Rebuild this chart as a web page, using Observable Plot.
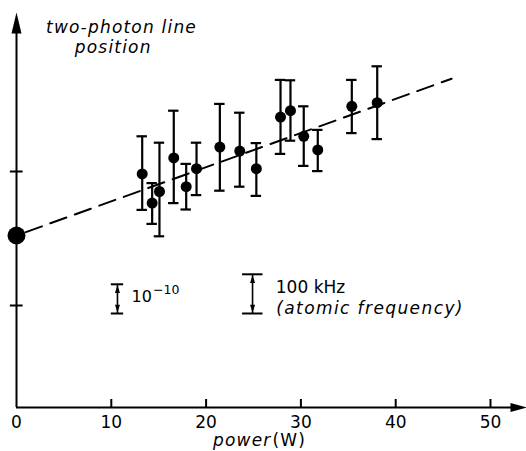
<!DOCTYPE html>
<html>
<head>
<meta charset="utf-8">
<script src="https://cdn.jsdelivr.net/npm/d3@7"></script>
<script src="https://cdn.jsdelivr.net/npm/@observablehq/plot@0.6"></script>
<style>
  html, body { margin: 0; padding: 0; background: #fff; }
  #chart { width: 526px; height: 451px; }
</style>
</head>
<body>
<div id="chart"></div>
<script>
// ---- data (power in W, line position in arbitrary units: 1 unit = 100 kHz) ----
const power    = [13.26, 14.31, 15.08, 16.59, 17.90, 18.99, 21.45, 23.55, 25.30, 27.85, 28.90, 30.30, 31.78, 35.37, 38.05];
const position = [5.84, 5.11, 5.40, 6.24, 5.52, 5.97, 6.51, 6.41, 5.97, 7.26, 7.42, 6.78, 6.44, 7.53, 7.62];
const errTop   = [6.78, 5.61, 6.62, 7.42, 6.09, 6.62, 7.59, 7.37, 6.61, 8.19, 8.18, 7.53, 6.94, 8.19, 8.53];
const errBottom= [4.94, 4.59, 4.28, 5.11, 4.95, 5.31, 5.42, 5.52, 5.29, 6.34, 6.67, 6.04, 5.91, 6.86, 6.71];
const zeroPower = [{x: 0, y: 4.30}];           // extrapolated zero-power point
const fitX = [0, 45.9];                        // dashed fit line
const fitY = [4.30, 8.22];
const xTicks = [0, 10, 20, 30, 40, 50];
const yTicks = [2.55, 5.90];

const points = power.map((p, i) => ({x: p, y: position[i], top: errTop[i], bottom: errBottom[i]}));
const fit = fitX.map((x, i) => ({x, y: fitY[i]}));

// custom arrowhead symbol: tip at origin, pointing up
const arrowHead = (len, half) => ({
  draw(ctx) {
    ctx.moveTo(0, 0);
    ctx.lineTo(-half, len);
    ctx.lineTo(half, len);
    ctx.closePath();
  }
});

const FONT = "DejaVu Sans";
const XMAX = 53.8, YMAX = 9.875;

const chart = Plot.plot({
  width: 526,
  height: 451,
  marginLeft: 16,
  marginRight: 36,
  marginTop: 12,
  marginBottom: 44,
  x: {domain: [0, 50], axis: null},
  y: {domain: [0, YMAX], axis: null},
  style: {background: "#fff", color: "#000", fontFamily: FONT},
  marks: [
    // axes
    Plot.ruleY([0], {x1: 0, x2: XMAX - 1.2, stroke: "#000", strokeWidth: 2}),
    Plot.ruleX([0], {y1: 0, y2: YMAX - 0.4, stroke: "#000", strokeWidth: 2}),
    Plot.dot([{x: 0, y: YMAX}], {x: "x", y: "y", symbol: arrowHead(21, 5), fill: "#000", stroke: null}),
    Plot.dot([{x: XMAX, y: 0}], {x: "x", y: "y", symbol: arrowHead(16, 4.5), rotate: 90, fill: "#000", stroke: null}),
    // x ticks (upward) and labels
    Plot.ruleX(xTicks.filter(d => d > 0), {x: d => d, y1: 0, y2: 0.2, stroke: "#000", strokeWidth: 2}),
    Plot.text(xTicks, {x: d => d, y: 0, dy: 15, text: d => String(d), fontSize: 17, fill: "#000"}),
    // y ticks (crossing)
    Plot.ruleY(yTicks, {y: d => d, x1: -0.65, x2: 0.7, stroke: "#000", strokeWidth: 2}),
    // dashed fit line
    Plot.line(fit, {x: "x", y: "y", stroke: "#000", strokeWidth: 2, strokeDasharray: "17,9", strokeDashoffset: -10}),
    // error bars
    Plot.ruleX(points, {x: "x", y1: "bottom", y2: "top", stroke: "#000", strokeWidth: 2.2}),
    Plot.ruleY(points, {y: "top", x1: d => d.x - 0.55, x2: d => d.x + 0.55, stroke: "#000", strokeWidth: 2.2}),
    Plot.ruleY(points, {y: "bottom", x1: d => d.x - 0.55, x2: d => d.x + 0.55, stroke: "#000", strokeWidth: 2.2}),
    Plot.dot(points, {x: "x", y: "y", r: 5.5, fill: "#000", stroke: null}),
    Plot.dot(zeroPower, {x: "x", y: "y", r: 9, fill: "#000", stroke: null}),
    // scale bar 10^-10
    Plot.ruleX([10.65], {x: d => d, y1: 2.35, y2: 3.08, stroke: "#000", strokeWidth: 1.6}),
    Plot.ruleY([2.35, 3.08], {y: d => d, x1: 10.0, x2: 11.3, stroke: "#000", strokeWidth: 2}),
    Plot.dot([{x: 10.65, y: 3.06}], {x: "x", y: "y", symbol: arrowHead(8, 2.5), fill: "#000", stroke: null}),
    Plot.dot([{x: 10.65, y: 2.37}], {x: "x", y: "y", symbol: arrowHead(8, 2.5), rotate: 180, fill: "#000", stroke: null}),
    Plot.text(["10"], {x: 12.13, y: 2.76, text: d => d, textAnchor: "start", fontSize: 16, fill: "#000"}),
    Plot.text(["\u221210"], {x: 14.4, y: 2.93, text: d => d, textAnchor: "start", fontSize: 12.5, fill: "#000"}),
    // scale bar 100 kHz
    Plot.ruleX([24.9], {x: d => d, y1: 2.35, y2: 3.33, stroke: "#000", strokeWidth: 1.6}),
    Plot.ruleY([2.35, 3.33], {y: d => d, x1: 23.85, x2: 26.0, stroke: "#000", strokeWidth: 2}),
    Plot.dot([{x: 24.9, y: 3.31}], {x: "x", y: "y", symbol: arrowHead(8, 2.5), fill: "#000", stroke: null}),
    Plot.dot([{x: 24.9, y: 2.37}], {x: "x", y: "y", symbol: arrowHead(8, 2.5), rotate: 180, fill: "#000", stroke: null}),
    Plot.text(["100 kHz"], {x: 27.35, y: 3.0, text: d => d, textAnchor: "start", fontSize: 17, fill: "#000"}),
    Plot.text(["(atomic frequency)"], {x: 27.4, y: 2.47, text: d => d, textAnchor: "start", fontSize: 17, fontStyle: "italic", fill: "#000", className: "wide2"}),
    // axis titles
    Plot.text(["two-photon line"], {x: 11.08, y: 9.5, text: d => d, fontSize: 17, fontStyle: "italic", fill: "#000", className: "wide1"}),
    Plot.text(["position"], {x: 10.2, y: 9.0, text: d => d, fontSize: 17, fontStyle: "italic", fill: "#000", className: "wide1"}),
    Plot.text(["power"], {x: 26.9, y: 0, dy: 33, text: d => d, textAnchor: "end", fontSize: 17, fontStyle: "italic", fill: "#000", className: "wide1"}),
    Plot.text(["(W)"], {x: 27.0, y: 0, dy: 33, text: d => d, textAnchor: "start", fontSize: 17, fill: "#000", className: "wide1"})
  ]
});
d3.select(chart).selectAll("g.wide1 text").attr("letter-spacing", 1.2);
d3.select(chart).selectAll("g.wide2 text").attr("letter-spacing", 1.4);
document.getElementById("chart").appendChild(chart);
</script>
</body>
</html>
